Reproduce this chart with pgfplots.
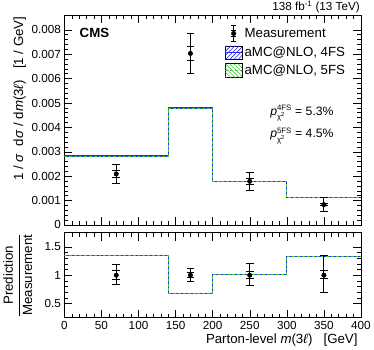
\documentclass[border=0pt]{standalone}
\usepackage{fontspec}
\setmainfont{Liberation Sans}
\usepackage{pgfplots}
\pgfplotsset{compat=1.18}

\definecolor{fsblue}{RGB}{40,40,255}
\definecolor{fsgreen}{RGB}{60,200,60}

\pgfplotsset{
  cms/.style={
    scale only axis, width=304pt, xmin=0, xmax=400,
    xtick={0,50,...,400}, minor x tick num=4,
    tick align=inside, major tick length=8pt, minor tick length=4pt,
    every tick/.style={black, line width=0.5pt},
    tick label style={font=\fontsize{12}{14}\selectfont},
    /pgf/number format/assume math mode=true,
    axis line style={line width=0.6pt},
    clip=true,
  },
  errs/.style={only marks, black,
    error bars/y dir=both, error bars/y explicit,
    error bars/error bar style={black, line width=1pt, solid},
    error bars/error mark options={rotate=90, mark size=4pt, line width=1pt, black}},
}

\begin{document}
\begin{tikzpicture}
\begin{axis}[cms, name=top, height=215pt,
  ymin=0, ymax=0.0086,
  xticklabels={},
  ytick={0,0.001,0.002,0.003,0.004,0.005,0.006,0.007,0.008},
  minor y tick num=4,
  scaled y ticks=false,
  yticklabel style={/pgf/number format/fixed, /pgf/number format/precision=3},
  ylabel={1 / \textit{σ} \ d\textit{σ} / d\textit{m}(3\textit{ℓ}) \ \ [1 / GeV]},
  ylabel style={font=\fontsize{13.6}{16}\selectfont, at={(rel axis cs:-0.118,1.01)}, anchor=south east},
  legend style={draw=none, fill=none, at={(0.53,0.965)}, anchor=north west,
    font=\fontsize{13.6}{16}\selectfont, row sep=3pt, cells={anchor=west},
    /tikz/every even column/.append style={column sep=2pt}},
]
% prediction histograms
\addplot[fsblue, line width=1.3pt, const plot, forget plot] coordinates {
(0,0.00283)(140,0.00479)(200,0.00179)(300,0.00112)(400,0.00112)};
\addplot[fsgreen, line width=0.7pt, densely dashed, const plot, forget plot] coordinates {
(0,0.00283)(140,0.00479)(200,0.00179)(300,0.00112)(400,0.00112)};
% measurement: total and inner uncertainties
\addplot[errs, mark=*, mark size=2.3pt, forget plot] coordinates {
(70,0.00209) += (0,0.00040) -= (0,0.00040)
(170,0.00703) += (0,0.00082) -= (0,0.00083)
(250,0.00179) += (0,0.00037) -= (0,0.00036)
(350,0.00083) += (0,0.00030) -= (0,0.00027)};
\addplot[errs, mark=none, forget plot] coordinates {
(70,0.00209) += (0,0.00014) -= (0,0.00013)
(170,0.00703) += (0,0.00027) -= (0,0.00027)
(250,0.00179) += (0,0.00010) -= (0,0.00012)
(350,0.00083) += (0,0.00004) -= (0,0.00004)};
% legend
\addlegendimage{legend image code/.code={
  \draw[black, line width=1pt] (0.3cm,-0.3cm)--(0.3cm,0.3cm);
  \draw[black, line width=1pt] (0.2cm,-0.3cm)--(0.4cm,-0.3cm) (0.2cm,0.3cm)--(0.4cm,0.3cm);
  \draw[black, line width=1pt] (0.2cm,-0.1cm)--(0.4cm,-0.1cm) (0.2cm,0.1cm)--(0.4cm,0.1cm);
  \fill[black] (0.3cm,0) circle (2.3pt);}}
\addlegendentry{Measurement}
\addlegendimage{legend image code/.code={
  \begin{scope}
  \clip (0,-0.25cm) rectangle (0.6cm,0.25cm);
  \foreach \s in {-0.6,-0.45,...,0.6} {\draw[fsblue, line width=0.6pt] (\s cm,-0.25cm)--++(0.5cm,0.5cm);}
  \end{scope}
  \draw[fsblue, line width=1.3pt] (0,0)--(0.6cm,0);}}
\addlegendentry{aMC@NLO, 4FS}
\addlegendimage{legend image code/.code={
  \begin{scope}
  \clip (0,-0.25cm) rectangle (0.6cm,0.25cm);
  \foreach \s in {-0.6,-0.45,...,0.6} {\draw[fsgreen, line width=0.6pt] (\s cm,0.25cm)--++(0.5cm,-0.5cm);}
  \end{scope}
  \draw[fsgreen, line width=1pt, densely dashed] (0,0)--(0.6cm,0);}}
\addlegendentry{aMC@NLO, 5FS}
\node[anchor=north west, font=\fontsize{13.6}{16}\selectfont\bfseries] at (rel axis cs:0.04,0.955) {CMS};
\node[anchor=west, font=\fontsize{12.5}{14}\selectfont] at (axis cs:273,0.00458)
  {\textit{p}$^{\hbox{\fontsize{8}{8}\selectfont 4FS}}_{\hbox{\fontsize{8}{8}\selectfont χ\textsuperscript{2}}}$ = 5.3\%};
\node[anchor=west, font=\fontsize{12.5}{14}\selectfont] at (axis cs:273,0.00365)
  {\textit{p}$^{\hbox{\fontsize{8}{8}\selectfont 5FS}}_{\hbox{\fontsize{8}{8}\selectfont χ\textsuperscript{2}}}$ = 4.5\%};
\end{axis}
\node[anchor=south east, font=\fontsize{12}{14}\selectfont, inner sep=1pt, yshift=1pt] at (top.north east)
  {138 fb\textsuperscript{-1} (13 TeV)};

\begin{axis}[cms, at={(top.south west)}, anchor=north west, yshift=-8pt, height=87pt,
  ymin=0.25, ymax=1.75, ytick={0.5,1,1.5}, minor y tick num=4,
  xlabel={Parton-level \textit{m}(3\textit{ℓ}) \ \ [GeV]},
  xlabel style={font=\fontsize{13.6}{16}\selectfont, at={(rel axis cs:1,0)}, anchor=north east, yshift=-13pt},
  ylabel={$\displaystyle\frac{\hbox{Prediction}}{\hbox{Measurement}}$},
  ylabel style={font=\fontsize{13.6}{16}\selectfont, at={(rel axis cs:-0.097,0.5)}, anchor=south},
]
\addplot[fsblue, line width=1.3pt, const plot] coordinates {
(0,1.345)(140,0.68)(200,1.01)(300,1.335)(400,1.335)};
\addplot[fsgreen, line width=0.7pt, densely dashed, const plot] coordinates {
(0,1.345)(140,0.68)(200,1.01)(300,1.335)(400,1.335)};
\addplot[errs, mark=*, mark size=2.3pt] coordinates {
(70,1) += (0,0.19) -= (0,0.17)
(170,1) += (0,0.12) -= (0,0.115)
(250,1) += (0,0.20) -= (0,0.19)
(350,1) += (0,0.35) -= (0,0.30)};
\addplot[errs, mark=none] coordinates {
(70,1) += (0,0.08) -= (0,0.07)
(170,1) += (0,0.05) -= (0,0.04)
(250,1) += (0,0.06) -= (0,0.06)
(350,1) += (0,0.08) -= (0,0.06)};
\end{axis}
\end{tikzpicture}
\end{document}
